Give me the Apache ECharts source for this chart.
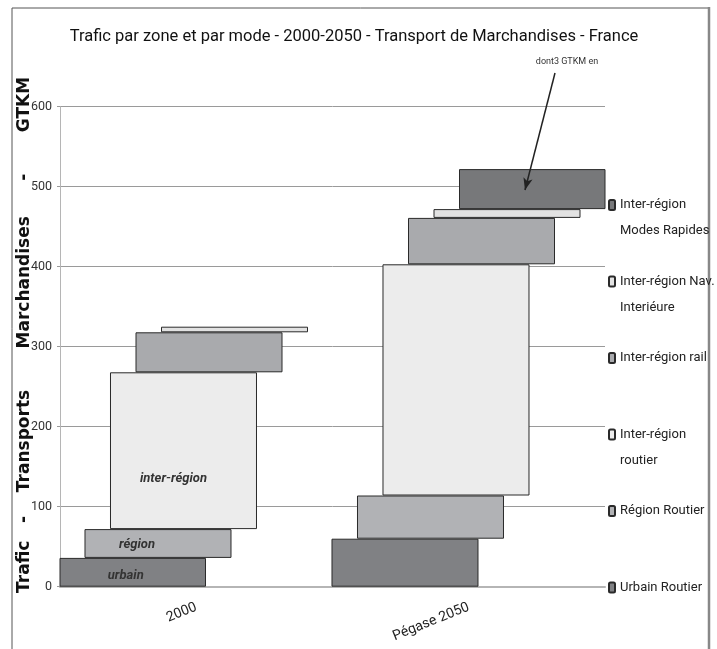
<!DOCTYPE html>
<html>
<head>
<meta charset="utf-8">
<script src="https://cdn.jsdelivr.net/npm/echarts@6/dist/echarts.min.js"></script>
<style>
  html, body { margin: 0; padding: 0; background: #fff; }
  #chart { width: 717px; height: 649px; }
</style>
</head>
<body>
<div id="chart"></div>
<script>
// donnees (GTKM)
const categories = ['2000', 'Pégase 2050']
const seriesNames = [
    'Urbain Routier',
    'Région Routier',
    'Inter-région\nroutier',
    'Inter-région rail',
    'Inter-région Nav.\nInteriéure',
    'Inter-région\nModes Rapides'
]
const urbainRoutier = [36, 60]
const regionRoutier = [36, 54]
const interRoutier = [196, 289]
const interRail = [50, 58]
const interNav = [7, 11]
const interRapides = [null, 50]
const barLabels2000 = ['urbain', 'région', 'inter-région', '', '', '']
const yTicks = [0, 100, 200, 300, 400, 500, 600]

const couleurs = ['#808184', '#b1b2b5', '#ececec', '#a9aaad', '#e2e2e2', '#77787a']
const labelOffsets = [[-7, 3], [-21, 1], [-10, 28], [0, 0], [0, 0], [0, 0]]

const valeurs = [urbainRoutier, regionRoutier, interRoutier, interRail, interNav, interRapides]
const fontNarrow = 'Roboto, "Liberation Sans", sans-serif'

var chart = echarts.init(document.getElementById('chart'))

// chaque segment est dans sa propre colonne, posee sur une base transparente
let series = []
let cumul = categories.map(() => 0)
valeurs.forEach((vals, k) => {
    series.push({
        type: 'bar',
        stack: 'c' + k,
        barWidth: 147,
        barGap: '-82.65%',
        silent: true,
        itemStyle: { color: 'transparent' },
        data: cumul.slice()
    })
    let s = {
        name: seriesNames[k],
        type: 'bar',
        stack: 'c' + k,
        barWidth: 147,
        barGap: '-82.65%',
        itemStyle: { color: couleurs[k], borderColor: '#2a2a2a', borderWidth: 1 },
        data: vals.map((v, i) => {
            if (i === 0 && barLabels2000[k]) {
                return {
                    value: v,
                    label: {
                        show: true,
                        position: 'inside',
                        offset: labelOffsets[k],
                        formatter: barLabels2000[k],
                        color: '#333',
                        fontStyle: 'italic',
                        fontWeight: 'bold',
                        fontSize: 13,
                        fontFamily: fontNarrow
                    }
                }
            }
            return v == null ? '-' : v
        })
    }
    if (k === valeurs.length - 1) {
        s.markLine = {
            silent: true,
            symbol: ['none', 'arrow'],
            symbolSize: [7, 12],
            label: { show: false },
            lineStyle: { color: '#222', width: 1.5, type: 'solid' },
            data: [[{ x: 555, y: 73 }, { x: 525, y: 190 }]]
        }
    }
    series.push(s)
    cumul = cumul.map((c, i) => c + (vals[i] || 0))
})

option = {
    animation: false,
    title: {
        text: 'Trafic par zone et par mode - 2000-2050 - Transport de Marchandises - France',
        left: 349,
        textAlign: 'center',
        top: 23,
        textStyle: { fontFamily: fontNarrow, fontSize: 16.5, fontWeight: 'normal', color: '#111' }
    },
    legend: {
        orient: 'vertical',
        left: 603,
        top: 161,
        itemWidth: 6,
        itemHeight: 10,
        itemGap: -1.5,
        selectedMode: false,
        data: seriesNames.slice().reverse(),
        // premiere ligne du texte alignee sur le symbole
        formatter: (name) => '\n' + name + (name.indexOf('\n') >= 0 ? '' : '\n'),
        textStyle: { fontFamily: fontNarrow, fontSize: 13, color: '#222', lineHeight: 26 }
    },
    grid: {
        left: 60,
        right: 112,
        top: 106.7,
        bottom: 62.3,
        outerBoundsMode: 'none'
    },
    xAxis: [
        {
            type: 'category',
            data: categories,
            axisLine: { lineStyle: { color: '#b5b5b5', width: 2 } },
            axisTick: { length: 6, lineStyle: { color: '#999' } },
            axisLabel: {
                rotate: 22,
                margin: 20,
                fontFamily: fontNarrow,
                fontSize: 14,
                color: '#222'
            }
        }
    ],
    yAxis: [
        {
            type: 'value',
            min: yTicks[0],
            max: yTicks[yTicks.length - 1],
            interval: yTicks[1] - yTicks[0],
            name: '    Trafic   -    Transports       Marchandises      -       GTKM',
            nameLocation: 'middle',
            nameGap: 27,
            nameMoveOverlap: false,
            nameTextStyle: {
                fontFamily: '"DejaVu Sans", sans-serif',
                fontWeight: 'bold',
                fontSize: 17,
                color: '#111'
            },
            axisLine: { show: true, lineStyle: { color: '#b5b5b5' } },
            axisTick: { show: true, length: 3, lineStyle: { color: '#999' } },
            axisLabel: { margin: 8, fontFamily: fontNarrow, fontSize: 12.5, color: '#333' },
            splitLine: { lineStyle: { color: '#9a9a9a', width: 1 } }
        }
    ],
    graphic: [
        {
            type: 'polyline',
            silent: true,
            shape: { points: [[12, 649], [12, 8], [709, 8]] },
            style: { stroke: '#555', lineWidth: 1, fill: null }
        },
        {
            type: 'line',
            silent: true,
            shape: { x1: 709, y1: 7, x2: 709, y2: 649 },
            style: { stroke: '#888', lineWidth: 2.5 }
        },
        {
            type: 'text',
            silent: true,
            x: 567,
            y: 62,
            style: {
                text: 'dont3 GTKM en',
                align: 'center',
                verticalAlign: 'middle',
                fontFamily: fontNarrow,
                fontSize: 9,
                fill: '#333'
            }
        }
    ],
    series: series
}
chart.setOption(option)
</script>
</body>
</html>
